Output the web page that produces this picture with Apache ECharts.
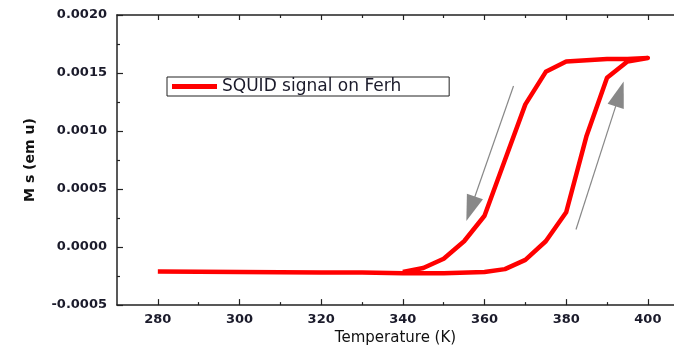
<!DOCTYPE html>
<html>
<head>
<meta charset="utf-8">
<script src="https://cdn.jsdelivr.net/npm/echarts@6/dist/echarts.min.js"></script>
<style>
  html, body { margin: 0; padding: 0; background: #fff; }
  #chart { width: 674px; height: 351px; }
</style>
</head>
<body>
<div id="chart"></div>
<script>
// heating branch (bottom, going up in T)
const tempHeat = [280, 290, 300, 310, 320, 330, 340, 350, 360, 365, 370, 375, 380, 385, 390, 395, 400]
const msHeat = [-0.00021, -0.000212, -0.000215, -0.000217, -0.00022, -0.00022, -0.000225, -0.000225, -0.000215, -0.00019, -0.00011, 0.00005, 0.0003, 0.00096, 0.00146, 0.0016, 0.00163]
// cooling branch (top, going down in T)
const tempCool = [400, 395, 390, 385, 380, 375, 370, 365, 360, 355, 350, 345, 340]
const msCool = [0.00163, 0.00162, 0.00162, 0.00161, 0.0016, 0.00151, 0.00123, 0.00075, 0.00027, 0.00005, -0.0001, -0.00018, -0.000215]

const xMajor = [280, 300, 320, 340, 360, 380, 400]
const xMinor = [290, 310, 330, 350, 370, 390]

// direction arrows [start, end]
const arrowDown = [[367.1, 0.001388], [356.6, 0.00033]]
const arrowUp = [[382.4, 0.000151], [393.1, 0.00132]]

const seriesName = 'SQUID signal on Ferh'

const loopData = []
tempHeat.forEach((t, i) => loopData.push([t, msHeat[i]]))
tempCool.forEach((t, i) => loopData.push([t, msCool[i]]))

const textColor = '#1b1b2b'
const font = 'DejaVu Sans'

function xAxisDef(position, ticks, len, labels, line) {
    return {
        type: 'value',
        position: position,
        min: 270,
        max: 406.4,
        axisLine: { show: line, onZero: false, lineStyle: { color: '#222', width: 1.5 } },
        axisTick: { show: true, inside: true, length: len, customValues: ticks, lineStyle: { color: '#222', width: 1.2 } },
        axisLabel: {
            show: labels,
            customValues: ticks,
            margin: 8,
            color: textColor,
            fontFamily: font,
            fontSize: 13,
            fontWeight: 'bold'
        },
        splitLine: { show: false }
    }
}

const option = {
    animation: false,
    backgroundColor: '#fff',
    grid: { left: 117, right: 0, top: 15, bottom: 43 },
    legend: {
        show: true,
        left: 167,
        top: 77,
        data: [seriesName],
        icon: 'rect',
        itemWidth: 45,
        itemHeight: 5,
        padding: [1, 48, 1, 5],
        borderColor: '#222',
        borderWidth: 1,
        borderRadius: 0,
        selectedMode: false,
        textStyle: { color: textColor, fontFamily: font, fontSize: 17 }
    },
    xAxis: [
        Object.assign(xAxisDef('bottom', xMajor, 6, true, true), {
            name: 'Temperature (K)',
            nameLocation: 'middle',
            nameGap: 25,
            nameTextStyle: { color: '#111', fontFamily: font, fontSize: 15 }
        }),
        xAxisDef('bottom', xMinor, 3, false, false),
        xAxisDef('top', xMajor, 5, false, true),
        xAxisDef('top', xMinor, 3, false, false)
    ],
    yAxis: {
        type: 'value',
        min: -0.0005,
        max: 0.002,
        interval: 0.0005,
        name: 'M s (em u)',
        nameLocation: 'middle',
        nameGap: 80,
        nameTextStyle: { color: '#111', fontFamily: font, fontSize: 14, fontWeight: 'bold' },
        axisLine: { show: true, lineStyle: { color: '#222', width: 1.5 } },
        axisTick: { show: true, inside: true, length: 6, lineStyle: { color: '#222', width: 1.2 } },
        minorTick: { show: true, splitNumber: 2, length: 3, lineStyle: { color: '#222', width: 1.2 } },
        axisLabel: {
            margin: 10,
            color: textColor,
            fontFamily: font,
            fontSize: 13,
            fontWeight: 'bold',
            formatter: (v) => v.toFixed(4)
        },
        splitLine: { show: false }
    },
    series: [{
        name: seriesName,
        type: 'line',
        xAxisIndex: 0,
        data: loopData,
        showSymbol: false,
        symbol: 'none',
        lineStyle: { color: '#ff0000', width: 4.5, join: 'round' },
        itemStyle: { color: '#ff0000' },
        markLine: {
            silent: true,
            symbol: ['none', 'triangle'],
            symbolSize: [17, 26],
            label: { show: false },
            lineStyle: { color: '#888', width: 1.2, type: 'solid' },
            data: [
                [{ coord: arrowDown[0] }, { coord: arrowDown[1] }],
                [{ coord: arrowUp[0] }, { coord: arrowUp[1] }]
            ]
        }
    }]
}

try {
    const chart = echarts.init(document.getElementById('chart'))
    chart.setOption(option, true)
} catch (e) {}
</script>
</body>
</html>
